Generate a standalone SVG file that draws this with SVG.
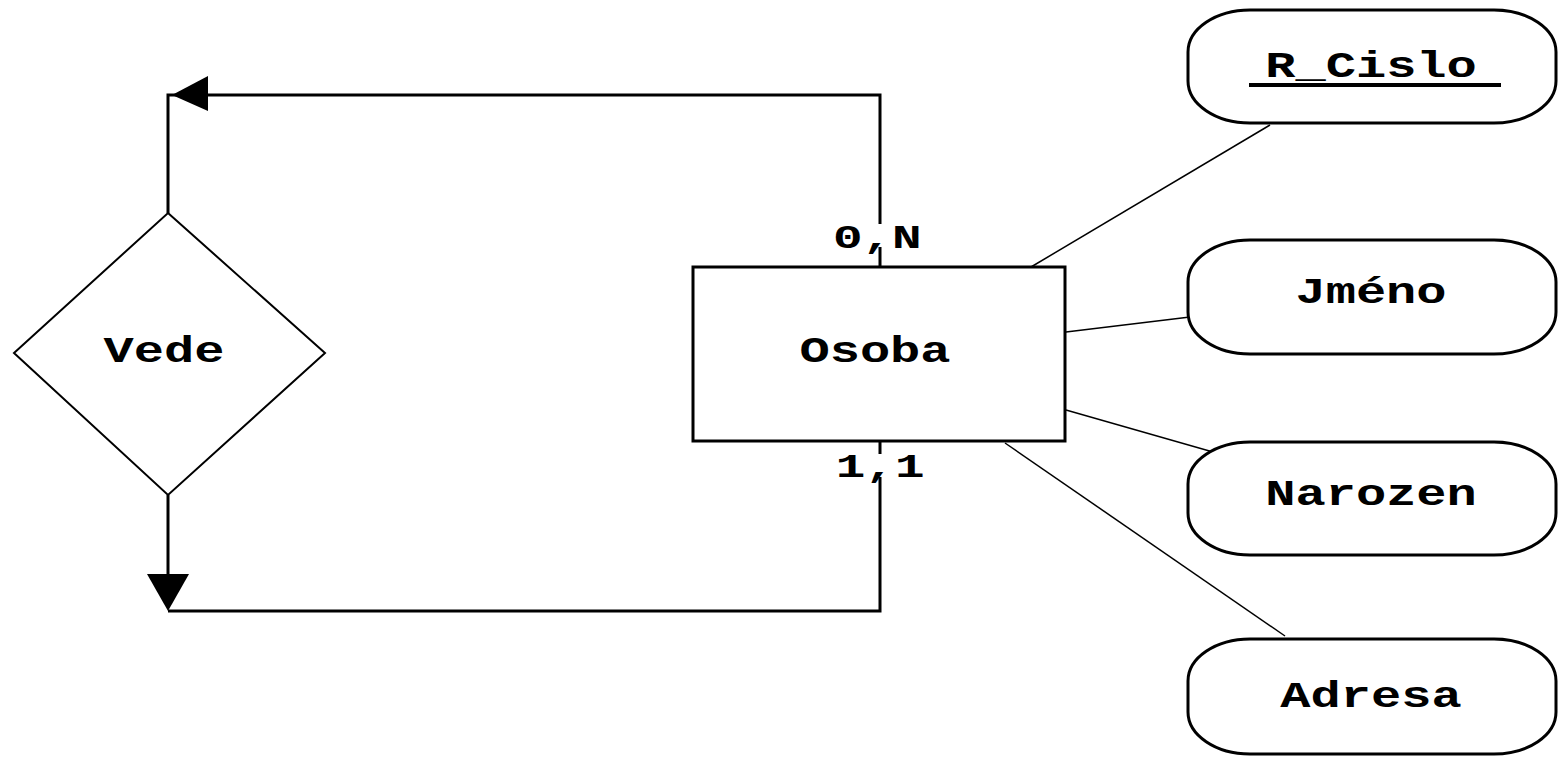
<svg xmlns="http://www.w3.org/2000/svg" width="1559" height="757" viewBox="0 0 1559 757">
<style>
.bg{fill:#fff}
.ent{fill:#fff;stroke:#000;stroke-width:3}
.rel{fill:#fff;stroke:#000;stroke-width:2}
.att{fill:#fff;stroke:#000;stroke-width:3}
.t{font-family:"Liberation Mono","DejaVu Sans Mono",monospace;font-weight:bold;font-size:36px;text-anchor:middle;fill:#000}
.lbl{font-family:"Liberation Mono","DejaVu Sans Mono",monospace;font-weight:bold;font-size:34px;text-anchor:middle;fill:#000}
.thick{fill:none;stroke:#000;stroke-width:3}
.thin{fill:none;stroke:#000;stroke-width:1.5}
</style>
<rect class="bg" x="0" y="0" width="1559" height="757"/>
<g id="connectors">
  <polyline class="thick" points="880,267 880,95 190,95"/>
  <polyline class="thick" points="168,213 168,95 190,95"/>
  <polygon points="172,95 208,76 208,111" fill="#000"/>
  <polyline class="thick" points="168,495 168,590"/>
  <polyline class="thick" points="168,611 880,611 880,441"/>
  <polygon points="168,611 147,574 189,574" fill="#000"/>
  <line class="thin" x1="1031" y1="267" x2="1270" y2="125"/>
  <line class="thin" x1="1066" y1="332" x2="1190" y2="317"/>
  <line class="thin" x1="1066" y1="410" x2="1213" y2="452"/>
  <line class="thin" x1="1005" y1="443" x2="1285" y2="636"/>
  <rect class="bg" x="830" y="224" width="95" height="23"/>
  <text class="lbl" transform="scale(1.45,1)" x="605" y="248">0,N</text>
  <rect class="bg" x="838" y="454" width="85" height="23"/>
  <text class="lbl" transform="scale(1.45,1)" x="607" y="477">1,1</text>
</g>
<g id="vede">
  <polygon class="rel" points="168,213 325,353 168,495 14,353"/>
  <text class="t" transform="scale(1.4,1)" x="117.1" y="362">Vede</text>
</g>
<g id="osoba">
  <rect class="ent" x="693" y="267" width="372" height="174"/>
  <text class="t" transform="scale(1.4,1)" x="625" y="362">Osoba</text>
</g>
<g id="r_cislo">
  <rect class="att" x="1188" y="10" width="368" height="113" rx="62" ry="42"/>
  <text class="t" transform="scale(1.4,1)" x="979.3" y="77">R_Cislo</text>
  <rect x="1249" y="83" width="252" height="4" fill="#000"/>
</g>
<g id="jmeno">
  <rect class="att" x="1188" y="240" width="368" height="114" rx="62" ry="42"/>
  <text class="t" transform="scale(1.4,1)" x="979.3" y="303">Jméno</text>
</g>
<g id="narozen">
  <rect class="att" x="1188" y="442" width="368" height="113" rx="62" ry="42"/>
  <text class="t" transform="scale(1.4,1)" x="979.3" y="505">Narozen</text>
</g>
<g id="adresa">
  <rect class="att" x="1188" y="639" width="368" height="115" rx="62" ry="42"/>
  <text class="t" transform="scale(1.4,1)" x="979.3" y="707">Adresa</text>
</g>
</svg>
